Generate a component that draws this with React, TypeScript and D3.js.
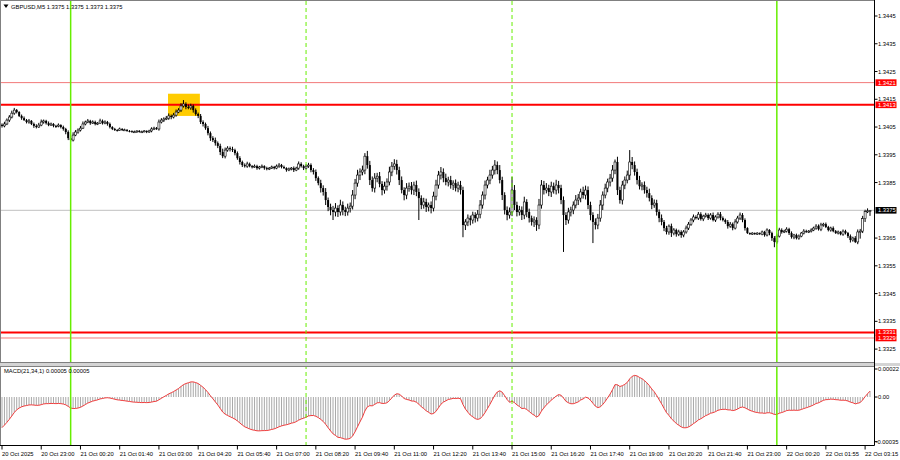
import React from "react";
import * as d3 from "d3";

const SYMBOL = "GBPUSD,M5";
const PIP = 0.0001;
const PRICE_BASE = 1.33; // prices below are in pips above 1.3300
const FIRST_OPEN_PIPS = 105.8;

// M5 closes (pips above 1.3300), one per bar, left to right
const closePips = [
  105.4,106.1,107.5,108.6,110.0,111.1,110.4,109.0,108.2,107.5,
  106.8,107.2,106.1,105.4,105.0,105.7,106.8,107.2,106.4,105.7,
  106.1,105.4,105.3,105.7,105.0,104.3,103.2,101.0,100.3,102.1,
  103.2,103.9,104.6,106.1,106.8,107.2,106.4,106.8,106.1,106.4,
  107.2,106.4,106.8,106.1,105.0,104.3,103.9,103.8,104.3,103.9,
  104.0,103.6,103.5,103.2,103.3,103.6,103.2,103.3,103.6,103.2,
  103.6,104.3,104.6,104.3,106.8,107.5,107.9,108.2,109.0,108.6,
  109.3,110.4,111.1,112.6,113.3,112.2,111.9,112.6,111.1,109.7,
  109.0,106.8,106.1,104.6,102.8,101.0,100.3,99.2,98.2,96.0,
  94.5,96.7,97.4,97.1,96.7,95.6,93.8,92.4,91.3,90.9,
  91.7,90.9,90.6,90.9,90.2,90.6,90.9,90.2,89.9,90.2,
  90.6,90.2,90.9,91.3,90.6,90.2,89.5,89.9,90.2,89.5,
  90.2,91.7,90.9,90.2,90.9,91.3,89.5,88.8,86.6,84.8,
  83.0,81.6,78.7,76.2,75.1,74.4,75.8,74.4,76.9,75.1,
  74.4,75.8,76.5,80.5,84.8,87.7,88.8,89.5,94.5,91.3,
  85.9,83.0,86.6,87.3,84.5,82.3,83.7,85.2,88.8,90.9,
  91.7,89.5,85.9,82.3,80.5,83.0,83.7,82.3,84.1,81.6,
  79.4,76.9,78.0,76.2,76.9,75.8,80.1,84.1,87.7,88.8,
  86.6,85.2,85.9,84.1,84.8,83.0,84.1,82.3,69.7,70.8,
  72.2,71.5,73.3,72.2,73.6,76.9,80.5,84.1,85.9,87.7,
  89.5,91.3,89.5,85.9,80.5,75.1,73.3,74.4,82.3,76.9,
  74.4,75.1,73.3,78.0,74.4,72.2,70.8,71.5,69.7,76.9,
  84.1,82.3,83.0,81.6,83.7,82.3,84.1,83.0,78.7,73.3,
  71.5,74.4,75.1,76.9,78.7,79.4,81.6,80.5,82.3,76.9,
  73.3,70.8,69.7,72.2,76.9,80.5,83.0,85.2,86.6,89.5,
  92.4,82.3,78.7,84.1,85.9,87.7,92.4,91.3,88.8,85.9,
  83.7,84.1,82.3,81.2,79.4,76.9,77.6,74.4,72.2,70.8,
  68.6,67.2,69.3,66.8,67.9,66.4,67.2,66.1,67.2,68.6,
  70.0,71.5,72.6,72.2,73.6,71.9,72.9,73.3,72.2,73.3,
  71.5,72.6,73.6,72.2,71.5,70.8,69.3,70.0,68.6,70.8,
  72.2,73.3,71.5,68.6,66.8,66.4,66.8,66.4,66.8,66.4,
  67.2,66.1,67.9,66.8,65.0,63.6,65.7,67.9,67.2,67.5,
  68.2,66.8,65.4,66.1,65.0,65.7,66.8,67.5,67.2,67.5,
  67.9,68.6,69.3,68.2,69.7,70.0,69.0,67.9,68.6,67.5,
  66.8,67.2,66.4,67.5,66.8,65.7,64.3,65.0,63.6,67.2,
  67.5,72.0,74.5,74.8,75.0,
];

// upper shadow above the body (pips)
const upWickPips = [
  0.5,0.8,0.6,0.7,0.9,0.8,0.4,0.3,0.5,0.6,
  0.4,0.7,0.3,0.5,0.6,0.8,0.9,0.5,0.4,0.6,
  0.5,0.3,0.4,0.6,0.3,0.5,0.4,0.6,0.8,1.0,
  0.7,0.6,0.8,0.9,0.5,0.7,0.4,0.6,0.5,0.4,
  0.8,0.5,0.6,0.4,0.5,0.3,0.4,0.3,0.5,0.3,
  0.4,0.2,0.3,0.3,0.4,0.2,0.3,0.4,0.3,0.2,
  0.4,0.6,0.5,0.4,0.9,0.7,0.6,0.8,0.9,0.5,
  0.8,0.9,0.7,1.0,1.4,0.6,0.9,0.8,0.5,0.6,
  0.5,0.7,0.6,0.5,0.8,0.6,0.7,0.9,0.6,0.8,
  1.2,0.9,0.7,0.6,0.8,0.5,0.6,0.7,0.5,0.6,
  0.8,0.5,0.4,0.6,0.5,0.4,0.6,0.3,0.5,0.4,
  0.5,0.4,0.6,0.7,0.4,0.5,0.3,0.5,0.4,0.6,
  0.5,0.9,0.6,0.5,0.7,0.8,0.6,0.7,0.9,0.6,
  1.2,1.0,1.4,0.9,1.2,1.5,1.8,1.0,1.9,1.3,
  1.2,1.6,1.3,1.8,1.5,1.9,1.3,1.6,1.1,1.9,
  1.5,1.3,1.8,1.2,1.5,1.0,1.6,1.3,1.9,1.5,
  1.7,1.5,1.2,1.3,1.0,1.8,1.3,1.5,1.2,1.6,
  1.3,1.0,1.5,1.2,0.9,1.3,1.6,1.9,1.5,1.8,
  1.3,1.6,1.2,1.5,1.0,1.3,1.2,1.5,1.2,1.0,
  1.3,0.9,1.2,1.0,1.5,1.8,1.3,1.6,1.2,1.9,
  1.5,1.8,1.3,1.8,1.2,1.0,1.3,1.6,4.7,1.8,
  1.2,1.5,1.3,1.9,1.0,1.2,0.9,1.3,1.0,2.2,
  1.8,1.5,1.8,1.2,1.6,1.3,1.9,1.5,1.2,1.3,
  1.0,1.5,1.2,1.3,1.8,1.5,1.2,1.9,1.6,1.3,
  1.2,1.0,1.3,1.5,1.8,1.3,1.6,1.2,1.5,1.8,
  0.9,1.9,1.2,1.5,1.3,1.6,4.3,1.8,1.3,1.2,
  1.5,1.0,1.3,1.2,1.6,1.0,1.3,1.2,0.9,1.3,
  0.7,0.8,0.6,0.9,0.7,0.5,0.8,0.6,0.7,0.9,
  0.8,0.7,0.9,0.6,0.8,0.7,0.5,0.8,0.6,0.7,
  0.9,0.6,0.7,0.8,0.6,0.5,0.7,0.8,0.6,1.0,
  0.8,0.9,0.7,0.6,0.3,0.2,0.3,0.2,0.3,0.2,
  0.5,0.4,0.6,0.3,0.5,0.7,0.9,0.8,0.6,0.5,
  0.7,0.5,0.6,0.4,0.5,0.6,0.4,0.7,0.5,0.4,
  0.6,0.5,0.7,0.6,0.8,0.5,0.6,0.4,0.5,0.6,
  0.4,0.5,0.3,0.6,0.5,0.4,0.6,0.5,0.7,0.9,
  0.8,1.0,0.7,0.9,0.0,
];

// lower shadow below the body (pips)
const downWickPips = [
  0.6,0.5,0.4,0.7,0.5,0.6,0.5,0.4,0.6,0.3,
  0.5,0.6,0.4,0.7,0.5,0.3,0.4,0.6,0.5,0.4,
  0.3,0.5,0.6,0.4,0.5,0.6,0.8,0.7,0.6,0.5,
  0.4,0.6,0.5,0.3,0.5,0.4,0.6,0.3,0.5,0.4,
  0.3,0.5,0.4,0.6,0.5,0.4,0.3,0.4,0.2,0.3,
  0.2,0.3,0.4,0.2,0.3,0.4,0.2,0.3,0.2,0.4,
  0.3,0.5,0.4,0.3,0.6,0.5,0.7,0.4,0.6,0.8,
  0.5,0.6,0.4,0.7,0.6,0.8,0.5,0.7,0.9,0.6,
  0.8,0.7,0.9,0.6,0.8,1.0,0.7,0.9,0.8,1.1,
  0.7,0.8,0.6,0.9,0.7,0.8,0.6,0.9,0.7,0.5,
  0.6,0.4,0.5,0.3,0.6,0.5,0.4,0.6,0.5,0.4,
  0.3,0.5,0.4,0.6,0.5,0.3,0.6,0.4,0.5,0.7,
  0.4,0.6,0.5,0.7,0.5,0.6,0.8,0.9,1.0,0.8,
  1.6,1.3,1.8,1.5,1.9,2.9,1.6,1.8,1.3,1.9,
  1.5,1.3,1.6,1.2,1.5,1.3,1.8,1.2,1.5,1.3,
  1.8,1.3,1.6,1.5,1.2,1.9,1.3,1.6,1.2,1.5,
  1.3,1.6,1.8,1.2,1.9,1.5,1.3,1.6,1.8,1.5,
  7.9,1.5,1.3,1.8,1.6,1.9,1.2,1.5,1.3,1.6,
  1.5,1.2,1.6,1.3,1.8,1.2,1.5,1.6,4.4,1.8,
  1.5,1.9,1.3,1.6,1.2,1.5,1.3,1.6,1.2,1.5,
  1.3,1.6,1.5,1.2,1.8,1.6,1.9,1.3,1.5,1.8,
  1.6,1.3,1.8,1.5,1.9,1.6,1.3,1.8,2.1,1.5,
  1.3,1.6,1.2,1.5,1.8,1.3,1.6,1.9,1.5,13.3,
  1.8,1.3,1.6,1.5,1.2,1.8,1.5,1.3,1.6,1.5,
  1.9,7.6,1.6,1.5,1.3,1.8,1.2,1.5,1.6,1.3,
  1.5,1.8,1.3,1.6,1.5,1.2,1.8,1.5,1.3,1.6,
  1.2,1.5,1.3,1.6,1.2,1.5,1.0,1.3,1.5,1.2,
  1.1,0.9,1.0,1.4,0.8,0.9,0.7,1.0,0.8,0.6,
  0.7,0.6,0.8,0.5,0.7,0.6,0.8,0.5,0.7,0.6,
  0.5,0.7,0.6,0.8,0.5,0.7,0.9,0.6,0.8,0.5,
  0.6,0.7,0.8,0.9,0.3,0.2,0.3,0.2,0.3,0.2,
  0.4,0.6,0.5,0.8,1.0,1.9,0.7,0.5,0.6,0.4,
  0.5,0.7,0.6,0.8,0.5,0.6,0.4,0.5,0.3,0.4,
  0.5,0.4,0.6,0.5,0.7,0.6,0.4,0.5,0.6,0.4,
  0.3,0.5,0.4,0.6,0.5,0.7,0.9,0.6,0.4,0.8,
  2.4,0.7,1.2,0.5,1.8,
];

const timeLabels = [
  "20 Oct 2025", "20 Oct 23:00", "21 Oct 00:20", "21 Oct 01:40", "21 Oct 03:00",
  "21 Oct 04:20", "21 Oct 05:40", "21 Oct 07:00", "21 Oct 08:20", "21 Oct 09:40",
  "21 Oct 11:00", "21 Oct 12:20", "21 Oct 13:40", "21 Oct 15:00", "21 Oct 16:20",
  "21 Oct 17:40", "21 Oct 19:00", "21 Oct 20:20", "21 Oct 21:40", "21 Oct 23:00",
  "22 Oct 00:20", "22 Oct 01:55", "22 Oct 03:15",
];
const BARS_PER_TIME_LABEL = 16;

const priceTicks = [1.3445, 1.3435, 1.3425, 1.3415, 1.3405, 1.3395, 1.3385, 1.3365, 1.3355, 1.3345, 1.3335, 1.3325];
const levelPrices = [1.3421, 1.3413, 1.3331, 1.3329];
const levelStrong = [false, true, true, false];
const solidLineBars = [28, 316];
const dashedLineBars = [124, 208];
const zoneBars = [67.7, 80.7];
const zonePrices = [1.3409, 1.3417];

const MACD_FAST = 21;
const MACD_SLOW = 34;
const MACD_SIGNAL = 1;
const EMA_FAST_SEED = 1.34045;
const EMA_SLOW_SEED = 1.34069;
const macdTicks = [0.00022, 0, -0.00035];
const macdTickLabels = ["0.00022", "0.00", "-0.00035"];

const FONT = "'Liberation Sans', Arial, sans-serif";
const FS = 5.8;

export default function App() {
  const W = 900, H = 460;
  const R = 874.5;
  const MAIN_T = 1, MAIN_B = 362.5, SUB_T = 366.5, SUB_B = 445.5;
  const N = closePips.length;

  const bars = closePips.map((c, i) => {
    const close = PRICE_BASE + c * PIP;
    const open = PRICE_BASE + (i === 0 ? FIRST_OPEN_PIPS : closePips[i - 1]) * PIP;
    const high = Math.max(open, close) + upWickPips[i] * PIP;
    const low = Math.min(open, close) - downWickPips[i] * PIP;
    return { i, open, high, low, close };
  });

  const x = d3.scaleLinear().domain([0, N - 1]).range([2, 2 + (N - 1) * 2.452]);
  const y = d3.scaleLinear().domain([1.3325, 1.3445]).range([349.1, 16]);

  // MACD(21,34,1)
  const kf = 2 / (MACD_FAST + 1), ks = 2 / (MACD_SLOW + 1);
  let ef = EMA_FAST_SEED, es = EMA_SLOW_SEED;
  const macd = bars.map((b, i) => {
    if (i > 0) {
      ef += kf * (b.close - ef);
      es += ks * (b.close - es);
    }
    return ef - es;
  });
  const signal = macd.map((_, i) => d3.mean(macd.slice(Math.max(0, i - MACD_SIGNAL + 1), i + 1)) as number);
  const ym = d3.scaleLinear().domain([-0.00035, 0.00022]).range([441.6, 369]);
  const macdLine = d3.line<number>().x((_, i) => x(i)).y((d) => ym(d));

  const last = bars[N - 1];
  const f4 = (v: number) => v.toFixed(4);
  const title = `${SYMBOL}  ${f4(last.open)} ${f4(last.high)} ${f4(last.low)} ${f4(last.close)}`;
  const macdTitle = `MACD(${MACD_FAST},${MACD_SLOW},${MACD_SIGNAL}) ${macd[N - 1].toFixed(5)} ${signal[N - 1].toFixed(5)}`;

  const bodyW = 2.0;

  return (
    <div style={{ position: "fixed", left: 0, top: 0, width: W, height: H, background: "#fff" }}>
      <svg width={W} height={H} style={{ display: "block" }} fontFamily={FONT}>
        <rect x={0} y={0} width={W} height={H} fill="#fff" />
        <defs>
          <clipPath id="mainClip"><rect x={0} y={MAIN_T} width={R} height={MAIN_B - MAIN_T} /></clipPath>
          <clipPath id="subClip"><rect x={0} y={SUB_T} width={R} height={SUB_B - SUB_T} /></clipPath>
        </defs>

        {/* highlight zone */}
        <rect x={x(zoneBars[0])} y={y(zonePrices[1])} width={x(zoneBars[1]) - x(zoneBars[0])}
          height={y(zonePrices[0]) - y(zonePrices[1])} fill="#ffcc00" />

        {/* current price line */}
        <line x1={0} x2={R} y1={y(last.close)} y2={y(last.close)} stroke="#c0c0c0" strokeWidth={1} />

        {/* level lines */}
        {levelPrices.map((p, k) => (
          <line key={"lv" + k} x1={0} x2={R} y1={y(p)} y2={y(p)}
            stroke={levelStrong[k] ? "#ff0000" : "#f27a7a"} strokeWidth={levelStrong[k] ? 2 : 1} />
        ))}

        {/* candles */}
        <g clipPath="url(#mainClip)">
          {bars.map((b) => {
            const cx = x(b.i);
            const top = y(Math.max(b.open, b.close));
            const bot = y(Math.min(b.open, b.close));
            const bull = b.close > b.open;
            return (
              <g key={b.i}>
                <line x1={cx} x2={cx} y1={y(b.high)} y2={y(b.low)} stroke="#000" strokeWidth={1} />
                <rect x={cx - bodyW / 2} y={top} width={bodyW} height={Math.max(1, bot - top)}
                  fill={bull ? "#fff" : "#000"} stroke="#000" strokeWidth={bull ? 0.6 : 0} />
              </g>
            );
          })}
        </g>

        {/* MACD histogram + signal */}
        <g clipPath="url(#subClip)">
          {macd.map((v, i) => (
            <line key={"h" + i} x1={x(i)} x2={x(i)} y1={ym(0)} y2={ym(v)} stroke="#a8a8a8" strokeWidth={1} />
          ))}
          <path d={macdLine(signal) || ""} fill="none" stroke="#f03c3c" strokeWidth={1} />
        </g>

        {/* session lines */}
        {solidLineBars.map((bi) => (
          <line key={"s" + bi} x1={x(bi)} x2={x(bi)} y1={MAIN_T} y2={SUB_B} stroke="#66ee00" strokeWidth={1.5} />
        ))}
        {dashedLineBars.map((bi) => (
          <line key={"d" + bi} x1={x(bi)} x2={x(bi)} y1={MAIN_T} y2={SUB_B} stroke="#66ee00" strokeWidth={1} strokeDasharray="4,3" />
        ))}

        {/* frames */}
        <line x1={0.5} x2={0.5} y1={MAIN_T} y2={SUB_B} stroke="#808080" />
        <line x1={0} x2={R} y1={MAIN_T - 0.5} y2={MAIN_T - 0.5} stroke="#808080" />
        <line x1={0} x2={R} y1={MAIN_B} y2={MAIN_B} stroke="#808080" />
        <rect x={0} y={MAIN_B + 0.5} width={W} height={SUB_T - MAIN_B - 1} fill="#d4d4d4" />
        <line x1={0} x2={R} y1={SUB_T} y2={SUB_T} stroke="#808080" />
        <line x1={0} x2={R} y1={SUB_B} y2={SUB_B} stroke="#000" />
        <line x1={R} x2={R} y1={0} y2={SUB_B} stroke="#000" />

        {/* price axis */}
        {priceTicks.map((p) => (
          <g key={"pt" + p}>
            <line x1={R} x2={R + 3} y1={y(p)} y2={y(p)} stroke="#000" />
            <text x={878} y={y(p) + 2} fontSize={FS} fill="#000">{p.toFixed(4)}</text>
          </g>
        ))}
        {levelPrices.map((p, k) => (
          <g key={"lb" + k}>
            <rect x={R + 1} y={y(p) - 3.3} width={21} height={6.6} fill="#ff0000" />
            <text x={878} y={y(p) + 2} fontSize={FS} fill="#fff">{p.toFixed(4)}</text>
          </g>
        ))}
        <rect x={R + 1} y={y(last.close) - 3.3} width={21} height={6.6} fill="#000" />
        <text x={878} y={y(last.close) + 2} fontSize={FS} fill="#fff">{last.close.toFixed(4)}</text>

        {/* MACD axis */}
        {macdTicks.map((v, k) => (
          <g key={"mt" + k}>
            <line x1={R} x2={R + 3} y1={ym(v)} y2={ym(v)} stroke="#000" />
            <text x={v < 0 ? 875.5 : 878} y={ym(v) + 2} fontSize={FS} fill="#000">{macdTickLabels[k]}</text>
          </g>
        ))}

        {/* time axis */}
        {timeLabels.map((t, k) => {
          const xi = x(k * BARS_PER_TIME_LABEL);
          return (
            <g key={"tl" + k}>
              <line x1={xi} x2={xi} y1={SUB_B} y2={SUB_B + 4} stroke="#000" />
              <text x={xi} y={455.5} fontSize={FS} fill="#000">{t}</text>
            </g>
          );
        })}

        {/* titles */}
        <path d="M3.5,4.5 L8.5,4.5 L6,8 Z" fill="#000" />
        <text x={11} y={8.6} fontSize={FS} fill="#000">{title}</text>
        <text x={4} y={373} fontSize={FS} fill="#000">{macdTitle}</text>
      </svg>
    </div>
  );
}
